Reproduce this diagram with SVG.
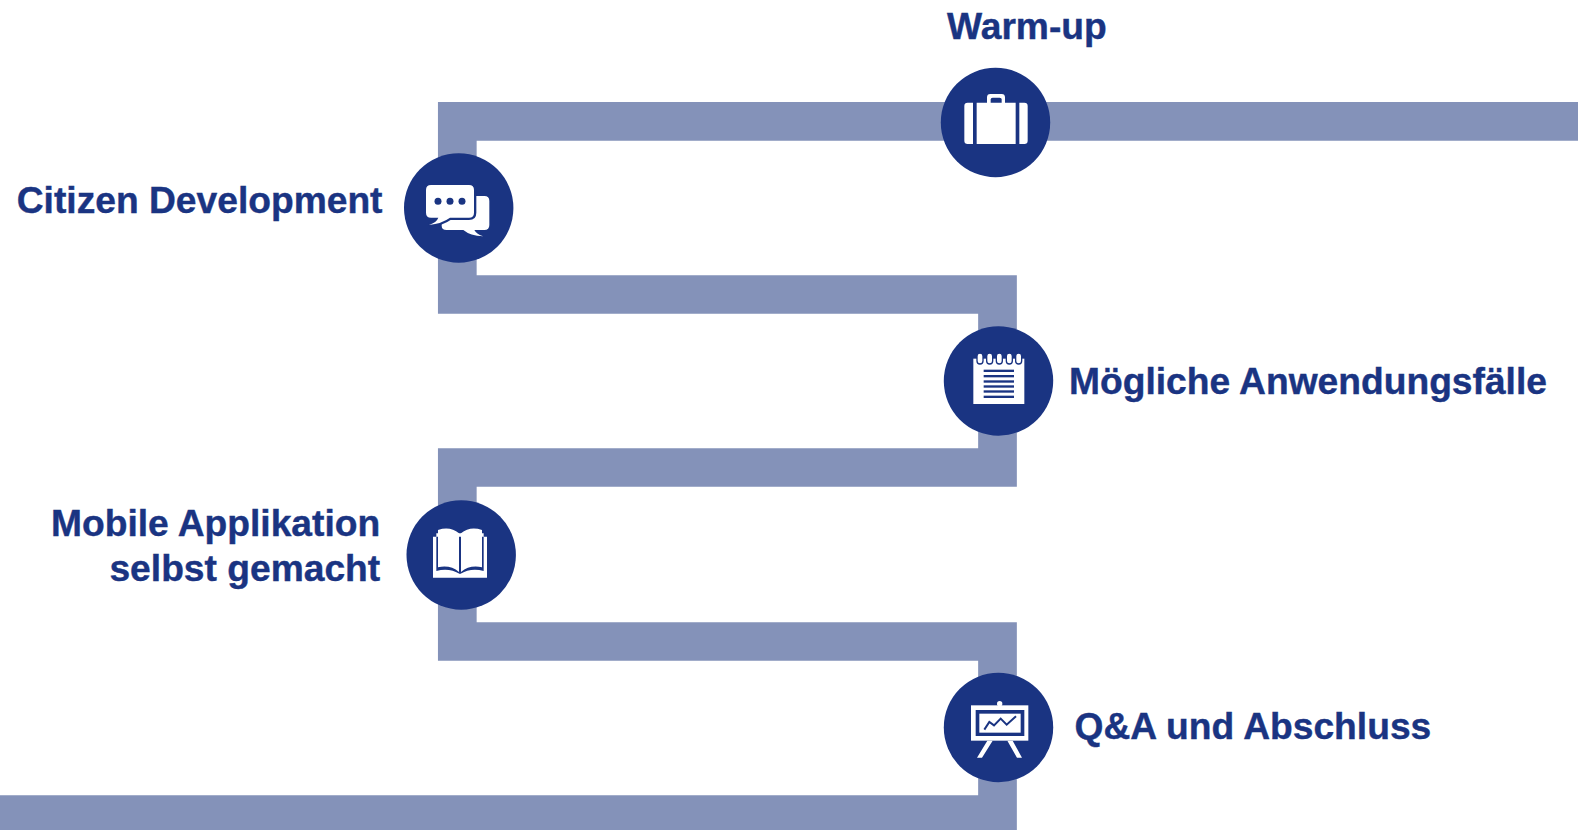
<svg xmlns="http://www.w3.org/2000/svg" width="1578" height="830" viewBox="0 0 1578 830">
<style>
text{font-family:"Liberation Sans",Arial,sans-serif;font-weight:700;font-size:37.2px;fill:#1a3482;stroke:#1a3482;stroke-width:.4}
.c{fill:#1a3482}
.w{fill:#fff}
.n{fill:#1a3482}
</style>
<rect width="1578" height="830" fill="#fff"/>
<g id="connectors">
<path d="M1578,121.3H457.3V294.5H997.5V467.5H457.3V641.5H997.5V814.5H0" fill="none" stroke="#8492b9" stroke-width="38.7"/>
</g>
<g id="warm-up">
<circle class="c" cx="995.5" cy="122.5" r="54.7"/>
<g transform="translate(925,60) scale(.33333)">
<path class="w" d="M128,128H144V252H128Q118,252 118,242V138Q118,128 128,128ZM155,128H186V112Q186,102 196,102H230Q240,102 240,112V128H272V252H155ZM197,128H230V118Q230,113 224,113H203Q197,113 197,118ZM283,128H298Q308,128 308,138V242Q308,252 298,252H283Z" fill-rule="evenodd"/>
</g>
<text x="947" y="38.800">Warm-up</text>
</g>
<g id="citizen-development">
<circle class="c" cx="458.7" cy="208" r="54.7"/>
<g transform="translate(395,145) scale(.33333)">
<path class="w" d="M165,153H268Q283,153 283,168V240Q283,255 268,255H238Q245,268 265,274Q225,272 205,255H155Q140,255 140,242V168Q140,153 165,153Z"/>
<path class="w" d="M108,120H222Q237,120 237,135V203Q237,218 222,218H165Q140,236 102,240Q125,232 130,218H108Q93,218 93,203V135Q93,120 108,120Z" stroke="#1a3482" stroke-width="14" paint-order="stroke"/>
<circle class="n" cx="129" cy="169" r="10.5"/><circle class="n" cx="165" cy="169" r="10.5"/><circle class="n" cx="201" cy="169" r="10.5"/>
</g>
<text x="382.500" y="212.800" text-anchor="end">Citizen Development</text>
</g>
<g id="moegliche-anwendungsfaelle">
<circle class="c" cx="998.500" cy="381" r="54.7"/>
<g transform="translate(930,318) scale(.33333)">
<rect class="w" x="130" y="122" width="153" height="136"/>
<g class="w" stroke="#1a3482" stroke-width="4">
<rect x="141" y="105" width="18" height="33" rx="9"/><rect x="170" y="105" width="18" height="33" rx="9"/><rect x="199" y="105" width="18" height="33" rx="9"/><rect x="229" y="105" width="18" height="33" rx="9"/><rect x="257" y="105" width="18" height="33" rx="9"/>
</g>
<g class="n">
<rect x="161" y="155" width="91" height="7"/><rect x="161" y="171" width="91" height="7"/><rect x="161" y="187" width="91" height="7"/><rect x="161" y="202" width="91" height="7"/><rect x="161" y="217" width="91" height="7"/><rect x="161" y="233" width="91" height="7"/>
</g>
</g>
<text x="1069" y="393.800">Mögliche Anwendungsfälle</text>
</g>
<g id="mobile-applikation">
<circle class="c" cx="461.200" cy="555" r="54.7"/>
<g transform="translate(397,490) scale(.33333)">
<path class="w" d="M108,140H118V130H260V140H270V263H108Z"/>
<path class="n" d="M118,140H260V243Q222,232 189,252Q156,232 118,243Z"/>
<path class="w" d="M123,120Q160,108 186,130V246Q160,224 123,232ZM192,130Q218,108 255,120V232Q218,224 192,246Z"/>
</g>
<text x="380.200" y="535.500" text-anchor="end">Mobile Applikation</text>
<text x="380.200" y="580.500" text-anchor="end">selbst gemacht</text>
</g>
<g id="qa-abschluss">
<circle class="c" cx="998.500" cy="727.500" r="54.7"/>
<g transform="translate(930,662) scale(.33333)">
<circle class="w" cx="209" cy="125" r="8"/>
<rect class="w" x="123" y="130" width="172" height="106"/>
<rect class="n" x="137" y="144" width="146" height="78"/>
<rect class="w" x="148" y="155" width="124" height="57"/>
<path d="M163,203L178,180L192,190L212,170L230,188L258,163" fill="none" stroke="#1a3482" stroke-width="6"/>
<path class="w" d="M172,236H188L156,287H141ZM232,236H248L276,287H261Z"/>
</g>
<text x="1074.500" y="739">Q&amp;A und Abschluss</text>
</g>
</svg>
